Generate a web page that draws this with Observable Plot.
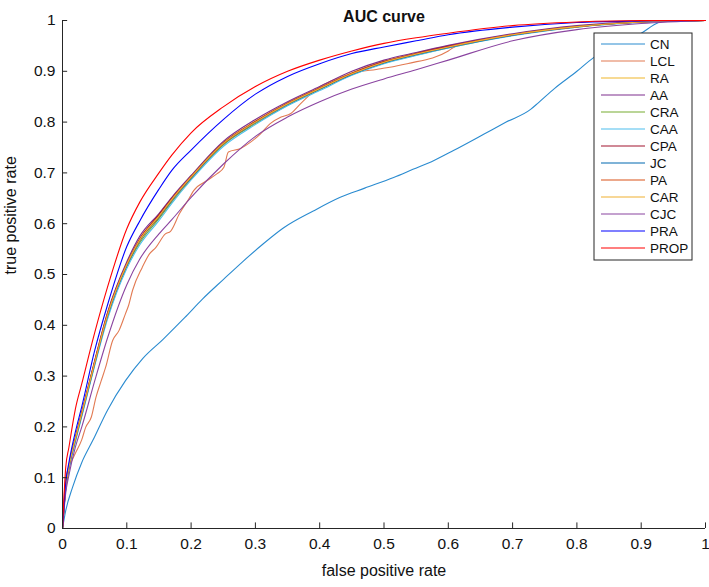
<!DOCTYPE html>
<html>
<head>
<meta charset="utf-8">
<script src="https://cdn.jsdelivr.net/npm/d3@7"></script>
<script src="https://cdn.jsdelivr.net/npm/@observablehq/plot@0.6"></script>
<style>
  body { margin: 0; background: #fff; }
  #chart { position: relative; width: 709px; height: 587px; }
</style>
</head>
<body>
<div id="chart"></div>
<script>
// ---- Data ----
const names  = ["CN","LCL","RA","AA","CRA","CAA","CPA","JC","PA","CAR","CJC","PRA","PROP"];
const colors = ["#2a8bd0","#e27a52","#efb52a","#7e2f8e","#77ac30","#4dbeee","#a2142f","#0068b0","#d95319","#f0b030","#8a44a0","#0000ff","#ff0000"];
const xTicks = [0,0.1,0.2,0.3,0.4,0.5,0.6,0.7,0.8,0.9,1];
const yTicks = [0,0.1,0.2,0.3,0.4,0.5,0.6,0.7,0.8,0.9,1];
const xTickLabels = ["0","0.1","0.2","0.3","0.4","0.5","0.6","0.7","0.8","0.9","1"];
const yTickLabels = ["0","0.1","0.2","0.3","0.4","0.5","0.6","0.7","0.8","0.9","1"];

// shared false-positive grid for the smooth curves
const fpr = [0,0.005,0.01,0.02,0.03,0.05,0.07,0.1,0.12,0.15,0.17,0.2,0.25,0.3,0.35,0.4,0.45,0.5,0.55,0.6,0.7,0.8,0.9,1];
const tprRA   = [0,0.085,0.125,0.18,0.23,0.33,0.425,0.522,0.57,0.617,0.65,0.694,0.76,0.802,0.838,0.868,0.897,0.92,0.936,0.95,0.973,0.989,0.997,1];
const tprAA   = [0,0.08,0.12,0.178,0.228,0.33,0.425,0.525,0.575,0.62,0.652,0.695,0.762,0.805,0.84,0.87,0.9,0.922,0.937,0.951,0.974,0.99,0.998,1];
const tprCRA  = [0,0.078,0.118,0.172,0.222,0.322,0.415,0.515,0.562,0.61,0.643,0.688,0.755,0.797,0.833,0.864,0.893,0.916,0.932,0.946,0.971,0.987,0.997,1];
const tprCAA  = [0,0.076,0.115,0.17,0.22,0.32,0.412,0.512,0.558,0.606,0.64,0.686,0.752,0.795,0.832,0.862,0.892,0.915,0.931,0.946,0.97,0.987,0.996,1];
const tprCPA  = [0,0.082,0.122,0.177,0.227,0.328,0.422,0.521,0.57,0.618,0.65,0.693,0.759,0.801,0.837,0.867,0.896,0.919,0.935,0.949,0.972,0.988,0.997,1];
const tprJC   = [0,0.079,0.119,0.174,0.224,0.324,0.418,0.518,0.566,0.613,0.646,0.69,0.757,0.799,0.835,0.865,0.894,0.917,0.933,0.947,0.971,0.988,0.997,1];
const tprPA   = [0,0.083,0.123,0.178,0.228,0.327,0.421,0.519,0.567,0.614,0.647,0.691,0.757,0.8,0.836,0.866,0.895,0.918,0.934,0.948,0.972,0.988,0.997,1];
const tprCAR  = [0,0.081,0.121,0.176,0.226,0.326,0.42,0.52,0.568,0.615,0.648,0.692,0.758,0.8,0.836,0.866,0.895,0.918,0.934,0.948,0.972,0.988,0.997,1];
const tprCJC  = [0,0.07,0.105,0.16,0.2,0.29,0.375,0.48,0.53,0.58,0.608,0.652,0.717,0.772,0.81,0.84,0.865,0.885,0.903,0.922,0.96,0.982,0.994,1];
const tprPRA  = [0,0.09,0.13,0.19,0.24,0.35,0.44,0.555,0.605,0.668,0.705,0.745,0.805,0.855,0.89,0.915,0.935,0.948,0.96,0.972,0.987,0.996,0.999,1];
const tprPROP = [0,0.12,0.16,0.235,0.285,0.385,0.475,0.59,0.642,0.70,0.735,0.779,0.83,0.87,0.90,0.922,0.94,0.955,0.966,0.975,0.99,0.997,1,1];

// CN has its own sampling
const fprCN = [0,0.005,0.0156,0.03,0.047,0.07,0.098,0.125,0.156,0.19,0.218,0.25,0.28,0.31,0.344,0.39,0.432,0.47,0.515,0.545,0.577,0.608,0.655,0.69,0.728,0.74,0.765,0.8,0.826,0.86,0.899,0.927,0.94,1];
const tprCN = [0,0.035,0.081,0.13,0.173,0.233,0.291,0.335,0.372,0.415,0.452,0.49,0.525,0.558,0.592,0.625,0.652,0.67,0.691,0.707,0.724,0.744,0.776,0.8,0.825,0.838,0.866,0.9,0.927,0.95,0.974,0.996,1,1];

// LCL is jagged, with its own sampling
const fprLCL = [0,0.005,0.01,0.02,0.03,0.036,0.045,0.052,0.06,0.067,0.078,0.088,0.098,0.103,0.109,0.124,0.135,0.145,0.16,0.168,0.182,0.197,0.204,0.225,0.24,0.251,0.258,0.277,0.292,0.308,0.323,0.34,0.355,0.37,0.396,0.432,0.448,0.495,0.536,0.6,0.608,0.666,0.75,0.85,0.9,1];
const tprLCL = [0,0.10,0.12,0.148,0.175,0.199,0.22,0.258,0.29,0.317,0.37,0.39,0.423,0.44,0.469,0.514,0.54,0.553,0.58,0.585,0.62,0.65,0.665,0.685,0.698,0.711,0.741,0.748,0.76,0.777,0.797,0.81,0.817,0.836,0.866,0.888,0.895,0.905,0.915,0.94,0.947,0.965,0.98,0.993,0.997,1];

// ---- Build long table ----
const gridSeries = {RA:tprRA, AA:tprAA, CRA:tprCRA, CAA:tprCAA, CPA:tprCPA, JC:tprJC, PA:tprPA, CAR:tprCAR, CJC:tprCJC, PRA:tprPRA, PROP:tprPROP};
const rows = [];
fprCN.forEach((x,i) => rows.push({name:"CN", x, y:tprCN[i]}));
fprLCL.forEach((x,i) => rows.push({name:"LCL", x, y:tprLCL[i]}));
for (const n of names) {
  if (gridSeries[n]) fpr.forEach((x,i) => rows.push({name:n, x, y:gridSeries[n][i]}));
}

const font = "'Liberation Sans', Arial, Helvetica, sans-serif";
const axisColor = "#262626";

const plot = Plot.plot({
  width: 709,
  height: 587,
  marginLeft: 62,
  marginRight: 4,
  marginTop: 20,
  marginBottom: 59,
  style: {fontFamily: font, fontSize: "15px", color: axisColor, background: "#fff"},
  x: {domain: [0, 1]},
  y: {domain: [0, 1]},
  color: {domain: names, range: colors},
  marks: [
    Plot.line(rows, {x: "x", y: "y", z: "name", stroke: "name", strokeWidth: 1.1, curve: "monotone-x"}),
    Plot.ruleX([0], {stroke: axisColor, strokeWidth: 1}),
    Plot.ruleY([0], {stroke: axisColor, strokeWidth: 1}),
    Plot.ruleX(xTicks, {y1: 0, y2: 0.011, stroke: axisColor, strokeWidth: 1}),
    Plot.ruleY(yTicks, {x1: 0, x2: 0.008, stroke: axisColor, strokeWidth: 1}),
    Plot.axisX(xTicks, {tickSize: 0, tickPadding: 9, tickFormat: (d, i) => xTickLabels[i], fontSize: 15.5, label: null, fill: "#111"}),
    Plot.axisY(yTicks, {tickSize: 0, tickPadding: 7, tickFormat: (d, i) => yTickLabels[i], fontSize: 15.5, label: null, fill: "#111"}),
    Plot.text(["false positive rate"], {frameAnchor: "bottom", dy: 47, fontSize: 16, fill: "#111"}),
    Plot.text(["true positive rate"], {frameAnchor: "left", dx: -52, rotate: -90, fontSize: 16, fill: "#111"}),
    Plot.text(["AUC curve"], {frameAnchor: "top", dy: -10, fontSize: 16, fontWeight: "bold", fill: "#111"})
  ]
});
document.getElementById("chart").appendChild(plot);

// ---- Legend box (inside the axes, top-right) ----
const svg = d3.select(plot);
const lg = svg.append("g").attr("font-family", font).attr("font-size", 13.5).attr("text-anchor", "start");
const boxX = 594, boxY = 33, boxW = 98, step = 17;
lg.append("rect").attr("x", boxX).attr("y", boxY).attr("width", boxW).attr("height", step * names.length + 6)
  .attr("fill", "#fff").attr("stroke", axisColor).attr("stroke-width", 1);
names.forEach((n, i) => {
  const cy = boxY + 11 + i * step;
  lg.append("line").attr("x1", boxX + 7).attr("x2", boxX + 51).attr("y1", cy).attr("y2", cy)
    .attr("stroke", colors[i]).attr("stroke-width", 1.1);
  lg.append("text").attr("x", boxX + 56).attr("y", cy).attr("dy", "0.35em").attr("text-anchor", "start").attr("fill", "#111").text(n);
});
</script>
</body>
</html>
